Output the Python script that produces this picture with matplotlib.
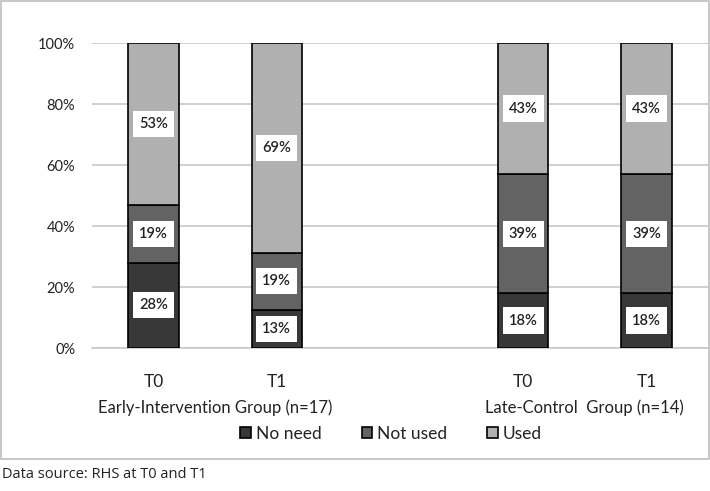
import numpy as np
import matplotlib.pyplot as plt
from matplotlib.patches import Rectangle

# categories (empty slot in the middle separates the two groups)
time_labels = ["T0", "T1", "", "T0", "T1"]
group_labels = ["Early-Intervention Group (n=17)", "Late-Control  Group (n=14)"]
series = ["No need", "Not used", "Used"]

no_need = [28, 12.5, 0, 18, 18]
not_used = [19, 18.75, 0, 39, 39]
used = [53, 68.75, 0, 43, 43]

no_need_txt = ["28%", "13%", "", "18%", "18%"]
not_used_txt = ["19%", "19%", "", "39%", "39%"]
used_txt = ["53%", "69%", "", "43%", "43%"]

colors = ["#383838", "#636363", "#b0b0b0"]

plt.rcParams["font.family"] = ["Lato", "DejaVu Sans"]

fig = plt.figure(figsize=(7.1, 4.91), dpi=100)
ax = fig.add_axes([0.1296, 0.2912, 0.8676, 0.6212])

x = np.arange(len(time_labels))
show = np.array([t != "" for t in time_labels])
xs = x[show]

bottom = np.zeros(len(x))
for vals, txts, col, name in zip([no_need, not_used, used],
                                 [no_need_txt, not_used_txt, used_txt],
                                 colors, series):
    v = np.array(vals, dtype=float)
    ax.bar(xs, v[show], width=0.41, bottom=bottom[show], color=col,
           edgecolor="black", linewidth=1.2, label=name, zorder=3)
    for i in xs:
        ax.text(i, bottom[i] + v[i] / 2, txts[i], ha="center", va="center",
                fontsize=10.5, fontweight="semibold", color="#222222", zorder=4,
                bbox=dict(boxstyle="square,pad=0.42", fc="white", ec="none"))
    bottom += v

ax.set_xlim(-0.5, 4.5)
ax.set_ylim(0, 100)
ax.set_yticks(np.arange(0, 101, 20))
ax.set_yticklabels([f"{t}%" for t in range(0, 101, 20)], fontsize=10.5,
                   color="#222222")
ax.yaxis.grid(True, color="#c8c8c8", linewidth=1.2, zorder=0)
ax.tick_params(axis="y", length=0, pad=12)
ax.tick_params(axis="x", length=0, pad=19)
ax.set_xticks(xs)
ax.set_xticklabels([time_labels[i] for i in xs], fontsize=12.5, color="#222222")
for s in ["top", "right", "left"]:
    ax.spines[s].set_visible(False)
ax.spines["bottom"].set_color("#c8c8c8")
ax.spines["bottom"].set_linewidth(1.2)

# group labels below the time labels
ax.text(0.5, -0.195, group_labels[0], transform=ax.get_xaxis_transform(),
        ha="center", va="center", fontsize=12, color="#222222")
ax.text(3.5, -0.195, group_labels[1], transform=ax.get_xaxis_transform(),
        ha="center", va="center", fontsize=12, color="#222222")

leg = fig.legend(loc="center", bbox_to_anchor=(0.551, 0.117), ncol=3,
                 frameon=False, fontsize=12.5, handlelength=0.6,
                 handleheight=0.6, handletextpad=0.3, columnspacing=2.3,
                 labelcolor="#222222")
for h in leg.legend_handles:
    h.set_edgecolor("black")

# chart border
fig.patches.append(Rectangle((0.002, 0.066), 0.996, 0.932, transform=fig.transFigure,
                             fill=False, ec="#bdbdbd", lw=1.2))

fig.text(0.003, 0.034, "Data source: RHS at T0 and T1", fontsize=10.5,
         family=["Open Sans", "DejaVu Sans"], va="center", color="#222222")

fig.savefig("out.png", dpi=100)
